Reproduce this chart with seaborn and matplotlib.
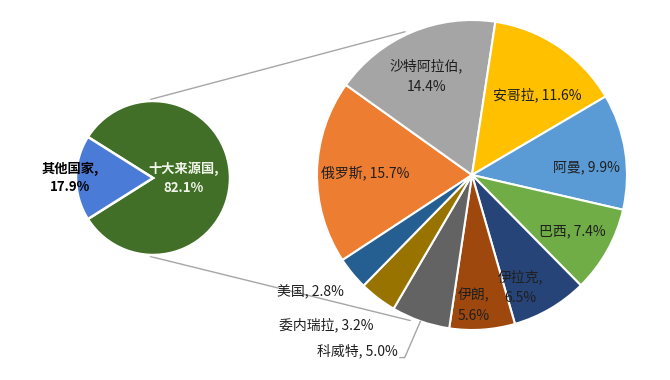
"""Pie-of-pie chart: share of crude oil import sources."""

import numpy as np
import matplotlib.pyplot as plt
import seaborn as sns

# ---- data -------------------------------------------------------------
group_labels = ['十大来源国', '其他国家']
group_values = [82.1, 17.9]

countries = ['俄罗斯', '沙特阿拉伯', '安哥拉', '阿曼', '巴西',
             '伊拉克', '伊朗', '科威特', '委内瑞拉', '美国']
country_values = [15.7, 14.4, 11.6, 9.9, 7.4, 6.5, 5.6, 5.0, 3.2, 2.8]

# ---- style ------------------------------------------------------------
sns.set_theme(style='white')
plt.rcParams['font.family'] = ['Noto Sans CJK SC', 'DejaVu Sans']

group_colors = ['#416F27', '#4A7BD6']
country_colors = sns.color_palette(['#ED7D31', '#A5A5A5', '#FFC000', '#5B9BD5', '#70AD47',
                                    '#264478', '#9E480E', '#636363', '#997300', '#255E91'])

# label layout for the big pie: (distance in radii, angle nudge, ha)
label_layout = [(0.69, 0, 'center'), (0.70, 2, 'center'), (0.67, -5, 'center'),
                (0.74, -5, 'center'), (0.74, 0, 'center'), (0.79, -7, 'center'),
                (0.84, -3, 'center'), (1.23, -3.5, 'right'), (1.16, 4, 'right'),
                (1.12, 3, 'right')]
wrapped = {'沙特阿拉伯', '伊拉克', '伊朗'}

small_c, small_r = (153, 202), 77
big_c, big_r = (472, 205), 155
txt = '#1f1f1f'
line_col = '#A6A6A6'


def polar(center, r, ang):
    a = np.deg2rad(ang)
    return center[0] + r * np.cos(a), center[1] + r * np.sin(a)


fig = plt.figure(figsize=(6.7, 3.8), dpi=100)
ax = fig.add_axes([0, 0, 1, 1])

# small pie: "other" slice centred on the left
start = 180 + group_values[1] / sum(group_values) * 180
ax.pie(group_values, colors=group_colors, startangle=start, center=small_c,
       radius=small_r, wedgeprops=dict(edgecolor='white', linewidth=1.8))

# big pie: the ten sources
wedges, _ = ax.pie(country_values, colors=country_colors, startangle=213.3,
                   counterclock=False, center=big_c, radius=big_r,
                   wedgeprops=dict(edgecolor='white', linewidth=1.5))

# connector lines between the pies
for a_small, a_big in [(92, 115), (268, 247)]:
    p0 = polar(small_c, small_r * 1.02, a_small)
    p1 = polar(big_c, big_r * 1.02, a_big)
    ax.plot([p0[0], p1[0]], [p0[1], p1[1]], color=line_col, lw=1, zorder=0)

# small pie labels
ax.text(*polar(small_c, small_r * 0.40, 0), f'{group_labels[0]},\n{group_values[0]}%',
        ha='center', va='center', fontsize=9.5, fontweight='bold', color='#F0F5EA',
        linespacing=1.5)
ax.text(*polar(small_c, small_r * 1.08, 180), f'{group_labels[1]},\n{group_values[1]}%',
        ha='center', va='center', fontsize=9.5, fontweight='bold', color='black',
        linespacing=1.4)

# big pie labels
for w, name, val, (dist, nudge, ha) in zip(wedges, countries, country_values, label_layout):
    mid = (w.theta1 + w.theta2) / 2
    sep = ',\n' if name in wrapped else ', '
    x, y = polar(big_c, big_r * dist, mid + nudge)
    ax.text(x, y, f'{name}{sep}{val}%', ha=ha, va='center', fontsize=10,
            color=txt, linespacing=1.6)
    if name == '科威特':
        ex, ey = polar(big_c, big_r, mid)
        ax.plot([x + 2, x + 7, ex], [y - 7, y - 7, ey], color=line_col, lw=1)

ax.set_xlim(0, 670)
ax.set_ylim(0, 380)
ax.set_aspect('equal')
ax.axis('off')

fig.savefig('out.png', dpi=100)
